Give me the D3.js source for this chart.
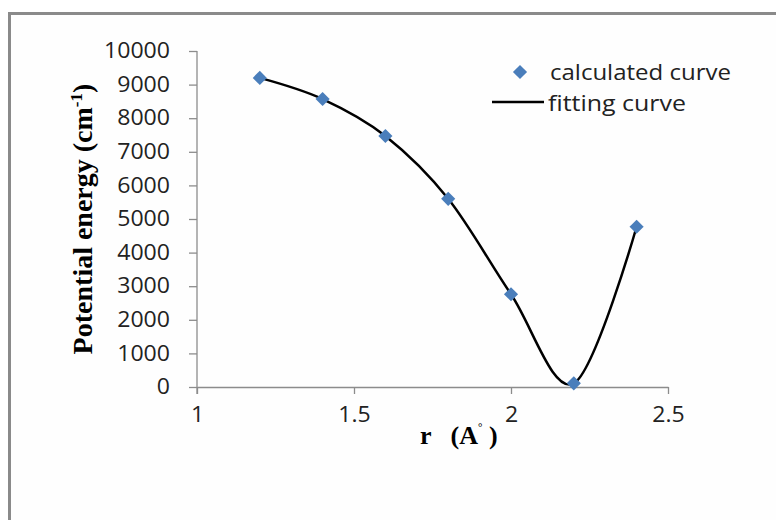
<!DOCTYPE html>
<html><head><meta charset="utf-8">
<script src="https://cdn.jsdelivr.net/npm/d3@7"></script>
<style>body{margin:0;background:#fff}svg{display:block}</style>
</head><body>
<svg id="c" width="776" height="520"></svg>
<script>
const rValues = [1.2, 1.4, 1.6, 1.8, 2.0, 2.2, 2.4];
const energyValues = [9200, 8570, 7470, 5600, 2760, 110, 4770];
const xTicks = [1, 1.5, 2, 2.5];
const yTicks = [0,1000,2000,3000,4000,5000,6000,7000,8000,9000,10000];
const seriesNames = ["calculated curve", "fitting curve"];

const svg = d3.select("#c");
svg.append("rect").attr("width",776).attr("height",520).attr("fill","#fff");
svg.append("rect").attr("x",9.5).attr("y",13.5).attr("width",900).attr("height",700)
  .attr("fill","#fefefe").attr("stroke","#8a8a8a").attr("stroke-width",3);

const x = d3.scaleLinear().domain([1,2.5]).range([197,668]);
const y = d3.scaleLinear().domain([0,10000]).range([387,51]);
const axisColor = "#8c8c8c";
const tickFont = "'Open Sans', sans-serif";
const fmt = d3.format("");
const textLen = s => { let w=0; for (const ch of String(s)) w += (ch===".") ? 6 : 13.2; return w; };

const ya = svg.append("g").attr("transform","translate(197,0)")
  .call(d3.axisLeft(y).tickValues(yTicks).tickFormat(fmt).tickSize(8).tickPadding(10).tickSizeOuter(0));
const xa = svg.append("g").attr("transform","translate(0,387)")
  .call(d3.axisBottom(x).tickValues(xTicks).tickFormat(fmt).tickSize(7).tickPadding(13).tickSizeOuter(0));
[ya,xa].forEach(g=>{
  g.selectAll("path,line").attr("stroke",axisColor).attr("stroke-width",1.3);
  g.selectAll("text").attr("fill","#222").attr("font-family",tickFont).attr("font-size",21)
    .attr("textLength",d=>textLen(fmt(d))).attr("lengthAdjust","spacingAndGlyphs");
});
ya.select("path.domain").attr("d","M0,51V394");
ya.selectAll(".tick text").attr("x",-27);

const data = rValues.map((r,i)=>({r, e: energyValues[i]}));
const line = d3.line().x(d=>x(d.r)).y(d=>y(d.e)).curve(d3.curveCardinal.tension(0));
svg.append("path").datum(data).attr("d",line).attr("fill","none")
  .attr("stroke","#000").attr("stroke-width",2.5);

const sq = d3.symbol().type(d3.symbolSquare).size(100);
svg.selectAll("path.pt").data(data).join("path").attr("class","pt")
  .attr("d",sq).attr("fill","#4a7ebb")
  .attr("transform",d=>`translate(${x(d.r)},${y(d.e)}) rotate(45)`);

// legend
svg.append("path").attr("d",sq).attr("fill","#4a7ebb").attr("transform","translate(520,72) rotate(45)");
svg.append("text").attr("x",550).attr("y",80).text(seriesNames[0])
  .attr("font-family",tickFont).attr("font-size",21).attr("fill","#222")
  .attr("textLength",181).attr("lengthAdjust","spacingAndGlyphs");
svg.append("line").attr("x1",492).attr("x2",544).attr("y1",102).attr("y2",102)
  .attr("stroke","#000").attr("stroke-width",2.5);
svg.append("text").attr("x",548).attr("y",111).text(seriesNames[1])
  .attr("font-family",tickFont).attr("font-size",21).attr("fill","#222")
  .attr("textLength",138).attr("lengthAdjust","spacingAndGlyphs");

// axis titles
const yl = svg.append("text").attr("transform","translate(92,219) rotate(-90)")
  .attr("text-anchor","middle").attr("font-family","'Liberation Serif', serif")
  .attr("font-weight","bold").attr("font-size",28).attr("fill","#000");
yl.append("tspan").text("Potential energy (cm");
yl.append("tspan").text("-1").attr("font-size",17).attr("dy",-10);
yl.append("tspan").text(")").attr("dy",10);

const xl = svg.append("text").attr("x",420).attr("y",444)
  .attr("font-family","'Liberation Serif', serif").attr("font-weight","bold")
  .attr("font-size",26).attr("fill","#000").attr("xml:space","preserve");
xl.append("tspan").text("r   (A");
xl.append("tspan").text("°").attr("font-size",11).attr("dy",-13);
xl.append("tspan").text(" )").attr("dy",13);
</script>
</body></html>
